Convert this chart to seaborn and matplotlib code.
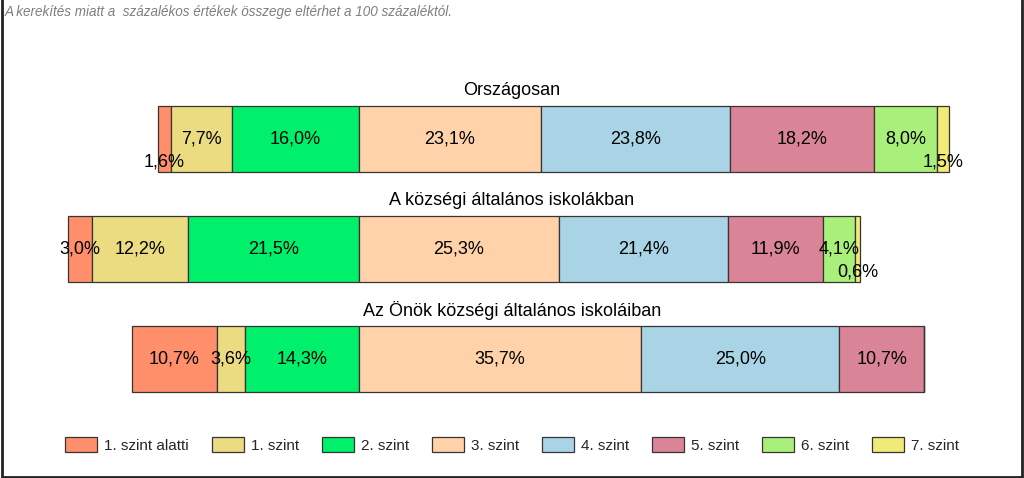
import matplotlib
matplotlib.use("Agg")
import matplotlib.pyplot as plt
import seaborn as sns
import pandas as pd
import numpy as np
from matplotlib.patches import Patch
from matplotlib.lines import Line2D

sns.set_theme(style="white")
plt.rcParams['font.family'] = ['Liberation Sans', 'DejaVu Sans']

categories = ["Országosan", "A községi általános iskolákban", "Az Önök községi általános iskoláiban"]
levels = ["1. szint alatti", "1. szint", "2. szint", "3. szint", "4. szint", "5. szint", "6. szint", "7. szint"]
below1 = [1.6, 3.0, 10.7]
lvl1 = [7.7, 12.2, 3.6]
lvl2 = [16.0, 21.5, 14.3]
lvl3 = [23.1, 25.3, 35.7]
lvl4 = [23.8, 21.4, 25.0]
lvl5 = [18.2, 11.9, 10.7]
lvl6 = [8.0, 4.1, 0.0]
lvl7 = [1.5, 0.6, 0.0]
colors = ["#FF8F6B", "#EBDC82", "#00F06C", "#FFD2AA", "#A8D4E6", "#D98497", "#A8F07A", "#F0EB78"]
header = "A kerekítés miatt a  százalékos értékek összege eltérhet a 100 százaléktól."

series = [below1, lvl1, lvl2, lvl3, lvl4, lvl5, lvl6, lvl7]
vals = np.array(series, dtype=float)  # shape (8, 3)
# diverging: boundary between level 2 and 3 at zero
neg = vals[:3].sum(axis=0)
starts = -neg + np.vstack([np.zeros(3), np.cumsum(vals, axis=0)[:-1]])

fig = plt.figure(figsize=(10.24, 4.78), dpi=100)
ax = fig.add_axes([0, 0, 1, 1])
ax.patch.set_alpha(0)

for k, lev in enumerate(levels):
    df = pd.DataFrame({"cat": categories, "val": vals[k]})
    sns.barplot(data=df, x="val", y="cat", orient="y", left=starts[k], color=colors[k],
                width=0.6, edgecolor="#3a3333", linewidth=0.9, saturation=1, ax=ax, errorbar=None)

for k in range(len(levels)):
    for i in range(len(categories)):
        v = vals[k, i]
        if v <= 0:
            continue
        cx = starts[k, i] + v / 2
        cy = i + (0.21 if v < 2 else 0)
        ax.text(cx, cy, f"{v:.1f}".replace(".", ",") + "%", ha="center", va="center",
                fontsize=13, color="black")

for i, c in enumerate(categories):
    ax.text(0.5, i - 0.445, c, transform=ax.get_yaxis_transform(), ha="center", va="center",
            fontsize=13, color="black")

scale = 7.92
ax.set_xlim(-358.5 / scale, (1024 - 358.5) / scale)
ax.set_ylim((478 - 139) / 110, (0 - 139) / 110)
ax.axis("off")

handles = [Patch(facecolor=colors[k], edgecolor="#3a3333", linewidth=0.9, label=levels[k]) for k in range(8)]
fig.legend(handles=handles, loc="center", bbox_to_anchor=(0.5, 1 - 445 / 478), ncol=8, frameon=False,
           fontsize=11, handlelength=2.1, handleheight=1.15, handletextpad=0.45, columnspacing=1.5)

fig.text(5 / 1024, 1 - 12 / 478, header, ha="left", va="center", fontsize=9.75, style="italic", color="#7f7f7f")

for (x0, y0, x1, y1) in [(1.5, 0, 1.5, 476.5), (1021.5, 0, 1021.5, 476.5), (1.5, 476.5, 1021.5, 476.5)]:
    fig.add_artist(Line2D([x0 / 1024, x1 / 1024], [1 - y0 / 478, 1 - y1 / 478], transform=fig.transFigure,
                          color="#222222", linewidth=2))

fig.savefig("out.png", dpi=100)
